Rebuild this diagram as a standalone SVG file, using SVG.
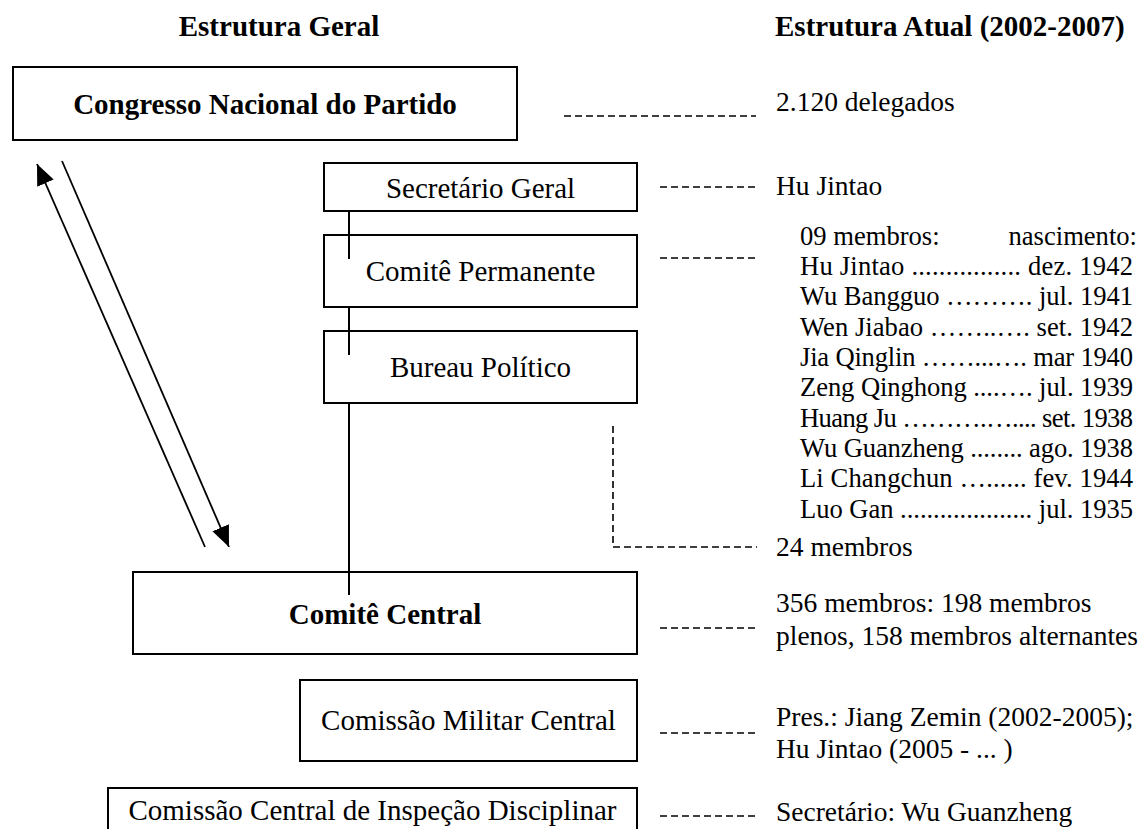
<svg xmlns="http://www.w3.org/2000/svg" width="1146" height="829" viewBox="0 0 1146 829">
  <defs>
    <style>
      .box { fill: #ffffff; stroke: #000000; stroke-width: 2; }
      .t { font-family: "Liberation Serif", "Times New Roman", serif; fill: #000000; }
      .title { font-size: 29px; font-weight: bold; }
      .bold { font-size: 29px; font-weight: bold; text-anchor: middle; }
      .reg { font-size: 29px; text-anchor: middle; }
      .side { font-size: 27.5px; }
      .list { font-size: 26.6px; }
      .solid { stroke: #000000; stroke-width: 2; fill: none; }
      .arrow { stroke: #000000; stroke-width: 1.8; fill: none; }
      .dash { stroke: #000000; stroke-width: 1.6; fill: none; stroke-dasharray: 7 4; }
    </style>
    <marker id="ah" markerUnits="userSpaceOnUse" markerWidth="22" markerHeight="18" refX="21" refY="9" orient="auto">
      <path d="M0,0 L21,9 L0,18 z" fill="#000000"/>
    </marker>
  </defs>

  <g id="headers">
    <text class="t title" x="279" y="36" text-anchor="middle">Estrutura Geral</text>
    <text class="t title" x="775" y="36">Estrutura Atual (2002-2007)</text>
  </g>

  <g id="congresso">
    <rect class="box" x="13" y="67" width="504" height="73"/>
    <text class="t bold" x="265" y="114">Congresso Nacional do Partido</text>
  </g>

  <g id="secretario">
    <rect class="box" x="324" y="163" width="313" height="48"/>
    <text class="t reg" x="480.5" y="198">Secretário Geral</text>
  </g>

  <g id="permanente">
    <rect class="box" x="324" y="235" width="313" height="72"/>
    <text class="t reg" x="480.5" y="281">Comitê Permanente</text>
  </g>

  <g id="bureau">
    <rect class="box" x="324" y="331" width="313" height="72"/>
    <text class="t reg" x="480.5" y="377">Bureau Político</text>
  </g>

  <g id="central">
    <rect class="box" x="133" y="572" width="504" height="82"/>
    <text class="t bold" x="385" y="624">Comitê Central</text>
  </g>

  <g id="militar">
    <rect class="box" x="300" y="680" width="337" height="81"/>
    <text class="t reg" x="468.5" y="730">Comissão Militar Central</text>
  </g>

  <g id="disciplinar">
    <rect class="box" x="108" y="788" width="529" height="60"/>
    <text class="t reg" x="372.5" y="820">Comissão Central de Inspeção Disciplinar</text>
  </g>

  <g id="connectors">
    <line class="solid" x1="349" y1="211" x2="349" y2="259"/>
    <line class="solid" x1="349" y1="307" x2="349" y2="355"/>
    <line class="solid" x1="349" y1="403" x2="349" y2="595"/>
    <line class="arrow" x1="205" y1="547" x2="37" y2="164" marker-end="url(#ah)"/>
    <line class="arrow" x1="62" y1="161" x2="229" y2="547" marker-end="url(#ah)"/>
    <line class="dash" x1="564" y1="116" x2="756" y2="116"/>
    <line class="dash" x1="660" y1="187" x2="757" y2="187"/>
    <line class="dash" x1="660" y1="258" x2="757" y2="258"/>
    <polyline class="dash" points="613,426 613,547 757,547"/>
    <line class="dash" x1="660" y1="628" x2="756" y2="628"/>
    <line class="dash" x1="660" y1="733" x2="756" y2="733"/>
    <line class="dash" x1="660" y1="816" x2="756" y2="816"/>
  </g>

  <g id="info">
    <text class="t side" x="776" y="111">2.120 delegados</text>
    <text class="t side" x="776" y="195">Hu Jintao</text>
    <text class="t list" x="800" y="245">09 membros:</text>
    <text class="t list" x="1137" y="245" text-anchor="end">nascimento:</text>
    <text class="t list" x="800" y="275" textLength="333" lengthAdjust="spacing">Hu Jintao ................ dez. 1942</text>
    <text class="t list" x="800" y="305" textLength="333" lengthAdjust="spacing">Wu Bangguo ………. jul. 1941</text>
    <text class="t list" x="800" y="336" textLength="333" lengthAdjust="spacing">Wen Jiabao ……..…. set. 1942</text>
    <text class="t list" x="800" y="366" textLength="333" lengthAdjust="spacing">Jia Qinglin ……...…. mar 1940</text>
    <text class="t list" x="800" y="396" textLength="333" lengthAdjust="spacing">Zeng Qinghong ....…. jul. 1939</text>
    <text class="t list" x="800" y="427" textLength="333" lengthAdjust="spacing">Huang Ju ……….….... set. 1938</text>
    <text class="t list" x="800" y="457" textLength="333" lengthAdjust="spacing">Wu Guanzheng ........ ago. 1938</text>
    <text class="t list" x="800" y="487" textLength="333" lengthAdjust="spacing">Li Changchun …...... fev. 1944</text>
    <text class="t list" x="800" y="518" textLength="333" lengthAdjust="spacing">Luo Gan .................... jul. 1935</text>
    <text class="t side" x="776" y="556">24 membros</text>
    <text class="t side" x="776" y="612">356 membros: 198 membros</text>
    <text class="t side" x="776" y="645">plenos, 158 membros alternantes</text>
    <text class="t side" x="776" y="726">Pres.: Jiang Zemin (2002-2005);</text>
    <text class="t side" x="776" y="758">Hu Jintao (2005 - ... )</text>
    <text class="t side" x="776" y="821">Secretário: Wu Guanzheng</text>
  </g>
</svg>
